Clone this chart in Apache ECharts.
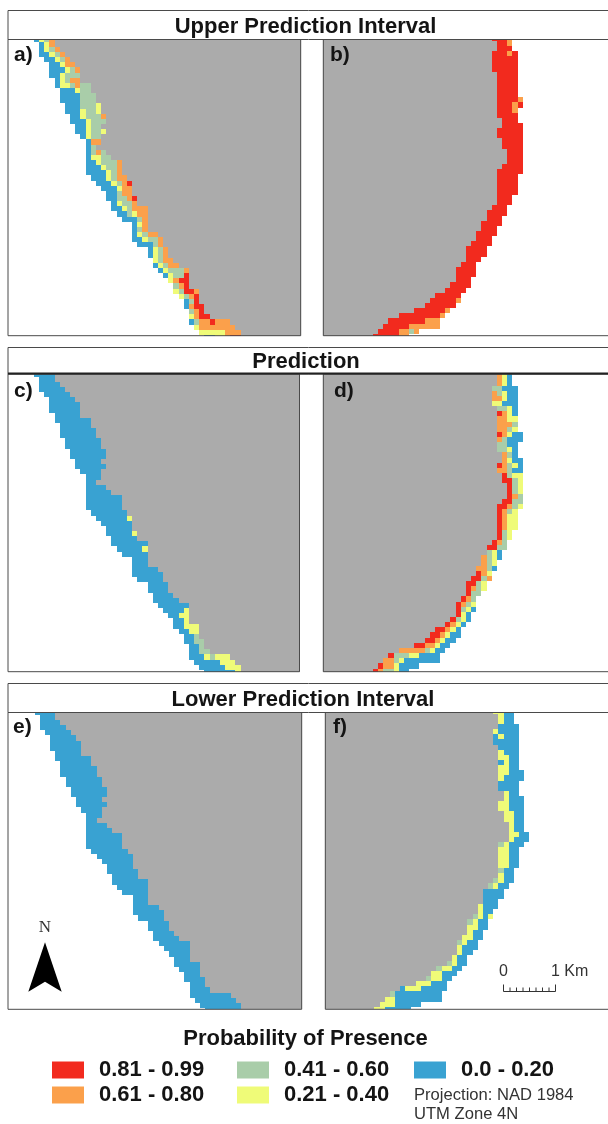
<!DOCTYPE html>
<html><head><meta charset="utf-8">
<style>html,body{margin:0;padding:0;background:#fff}#c{width:608px;height:1124px}</style>
<script src="https://cdn.jsdelivr.net/npm/echarts@6/dist/echarts.min.js"></script>
</head><body><div id="c"></div>
<script>
// Probability classes
const classCodes = ['R','O','G','Y','B'];
const classNames = ['0.81 - 0.99','0.61 - 0.80','0.41 - 0.60','0.21 - 0.40','0.0 - 0.20'];
const classColors = ['#F22A1E','#FBA04B','#A9CDA9','#EFFB78','#39A2D2'];
const landColor = '#ABABAB';
const headerTitles = ['Upper Prediction Interval','Prediction','Lower Prediction Interval'];
const panelLetters = ['a)','b)','c)','d)','e)','f)'];

// Each row: "firstColumn classRuns", e.g. "15 B4Y" = 4 blue cells then 1 yellow from column 15
const rowsA = ['5 BYGO','6 BYO','6 BYGO','6 B2YGO','7 B2YGO','8 B2YO2','8 B3YGO','8 B2YG3','9 BYGO2','9 BY2GOG2','10 B3YG2','10 B4G3','10 B4G3','11 B3G3Y','11 B3YG2Y','12 B2YG3O','12 B3YG3','13 B2YG2','13 B2YG2Y','14 BYG2','15 BO2','15 BG','15 BGOG','15 BY2G2','15 B2YG3O','15 B3YG2O','15 B4YGO','16 B3YGO2','17 B3YGOR','18 B3YO2','19 B2GO2','19 B2G2OR','20 BYG2O','20 B2YGO3','21 B2GYO2','22 B3GO','24 BYO','24 BGO','24 BYGO2','24 B2YG2O','25 B3GO','27 BYGO','27 BYGO','28 YGO2','28 BYGO2','29 BYG3O','30 BYG2R','31 YOR2','32 GOR','32 YGR2O','33 YGOR','34 BGR','34 BOR2','35 GOR','35 YOR2','35 BGO2RO3','36 YO7','37 Y5O3','38 B2Y2OR2'];
const rowsB = ['33 R3O','34 R2O','34 R3','33 R3OR','33 R5','33 R5','33 R5','34 R4','34 R4','34 R4','34 R4','34 R4','34 R4O','34 R3OR','34 R3O','34 R4','35 R3','35 R4','34 R5','34 R5','35 R4','35 R4','36 R3','36 R3','36 R3','35 R4','34 R5','34 R4','34 R4','34 R4','34 R4','34 R3','34 R3','33 R3','32 R4','32 R3','31 R4','31 R3','30 R4','30 R3','29 R4','28 R4','28 R4','28 R3','27 R3','26 R4','26 R4','26 R3','25 R4','24 R4','22 R5','21 R5O','20 R6','18 R6O','15 R8O','13 R7O3','12 R5O6','11 R4O2GO','10 R5O2'];
const rowsC = ['5 B4','6 B3','6 B4','6 B5','7 B5','8 B5','8 B6','8 B6','9 B5','9 B7','10 B6','10 B7','10 B7','11 B7','11 B7','12 B7','12 B7','13 B5','13 B6','14 B4','15 B3','15 B2','15 B4','15 B5','15 B7','15 B7','15 B7','16 B7','17 B6Y','18 B6','19 B5','19 B5Y','20 B5','20 B7','21 B5Y','22 B5','24 B3','24 B3','24 B5','24 B6','25 B5','27 B4','27 B4','28 B4','28 B5','29 B6','30 B4Y','31 B2Y2','32 B2Y','32 B2Y3','33 B2Y2','34 B2G','34 B2G2','35 B2G','35 B2G2','35 B3YGY3','36 B5Y3','37 B5Y3','38 B6Y'];
const rowsD = ['34 OYB','34 OYB','34 OYB','33 G2B3','33 OGYB2','33 O2YB2','33 Y2B3','34 G2YB','34 ROYB','34 O2Y2','34 O3G','34 O2GY','34 ROYB2','34 OGB3','34 G2B2','34 G2YB','35 OGB','35 OYB2','34 ROGYB','34 O2GB2','35 RGY2','35 R2GY','36 RGY','36 RGY','36 ROG','35 R2G2','34 R2OGY','34 ROGY','34 ROY2','34 ROY2','34 ROY2','34 RGY','34 RGY','33 ROG','32 R2G2','32 GYB','31 OGYB','31 OGY','30 O2GB','30 ROY','29 R2GO','28 R2GY','28 ROGY','28 RG2','27 ROG','26 ROGY','26 RGYB','26 RYB','25 RGYB','24 ROYB','22 R2OYB','21 R2OYB2','20 R2OYB2','18 R2O2YB2','15 O5GYB2','13 RG3Y2B4','12 O2GYB7','11 RO2YB4','10 ROG2YB2'];
const rowsE = ['5 B4','6 B3','6 B4','6 B5','7 B5','8 B5','8 B6','8 B6','9 B5','9 B7','10 B6','10 B7','10 B7','11 B7','11 B7','12 B7','12 B7','13 B5','13 B6','14 B4','15 B3','15 B2','15 B4','15 B5','15 B7','15 B7','15 B7','16 B7','17 B7','18 B6','19 B5','19 B6','20 B5','20 B7','21 B6','22 B5','24 B3','24 B3','24 B5','24 B6','25 B5','27 B4','27 B4','28 B4','28 B5','29 B6','30 B5','31 B4','32 B3','32 B5','33 B4','34 B3','34 B4','35 B3','35 B4','35 B8','36 B8','37 B8','38 B7'];
const rowsF = ['33 Y2B2','34 YB2','34 YB2','34 B4','33 YB4','33 BYB3','33 B5','34 B4','34 YB3','34 Y2B2','34 BYB2','34 Y2B2','34 Y2B3','34 YB4','34 B4','34 B4','35 YB2','35 YB3','34 Y2B3','34 Y2B3','35 Y2B2','35 Y2B2','36 YB2','36 YB2','36 Y2B2','36 YB3','34 GYB3','34 Y2B2','34 Y2B2','34 Y2B2','34 Y2B2','34 GB2','34 YB2','33 GYB2','32 GYB2','31 B4','31 B4','31 B3','30 YB3','30 YB2','29 GYBY','28 GYB2','28 Y2B2','28 YB2','27 Y2B2','26 GYB2','26 YB3','26 YB2','25 YB2','24 GYB2','22 GY2B2','21 Y2B3','20 GY2B2','18 Y3B3','15 BY3B5','13 GB9','12 Y2B9','11 Y3B5','10 Y2B5'];

const cw = 15.5/3, ch = 15.43/3;
const panels = [
 {rows:rowsA, left:8,     top:39.5, right:300.7, bottom:335.7,  colO:8,      rowO:41.67-ch, land:'right'},
 {rows:rowsB, left:323.3, top:39.5, right:608,   bottom:335.7,  colO:321.17, rowO:40.67-ch, land:'left'},
 {rows:rowsC, left:8,     top:374,  right:299.5, bottom:671.7,  colO:8,      rowO:376.67-ch, land:'right'},
 {rows:rowsD, left:323.3, top:374,  right:608,   bottom:671.7,  colO:321.17, rowO:375.33-ch, land:'left'},
 {rows:rowsE, left:8,     top:712.5,right:301.7, bottom:1009.3, colO:8.83,   rowO:714.83-ch, land:'right'},
 {rows:rowsF, left:325.3, top:712.5,right:608,   bottom:1009.3, colO:322.83, rowO:713.67-ch, land:'left'}
];

function parseRow(s){
  const [st, runs] = s.split(' ');
  let col = +st; const cells = [];
  runs.replace(/([A-Z])(\d*)/g, (m,c,n)=>{ for(let i=0;i<(n?+n:1);i++){ cells.push([col,c]); col++; } return m; });
  return {start:+st, end:col, cells};
}
function renderCell(params, api){
  const a = api.coord([api.value(0), api.value(2)]);
  const b = api.coord([api.value(1), api.value(2)+1]);
  const cs = params.coordSys;
  const x0 = Math.max(Math.round(a[0]), Math.round(cs.x)), x1 = Math.min(Math.round(b[0]), Math.round(cs.x+cs.width));
  const y0 = Math.max(Math.round(a[1]), Math.round(cs.y)), y1 = Math.min(Math.round(b[1]), Math.round(cs.y+cs.height));
  if (x1<=x0 || y1<=y0) return null;
  return {type:'rect', shape:{x:x0,y:y0,width:x1-x0,height:y1-y0}, style:{fill:api.visual('color')}, silent:true};
}

const grid=[], xAxis=[], yAxis=[], series=[];
panels.forEach((p,i)=>{
  grid.push({left:p.left, top:p.top, width:p.right-p.left, height:p.bottom-p.top, show:false});
  const xMin=(p.left-p.colO)/cw, yMin=(p.top-p.rowO)/ch;
  xAxis.push({gridIndex:i, type:'value', show:false, min:xMin, max:xMin+(p.right-p.left)/cw});
  yAxis.push({gridIndex:i, type:'value', show:false, inverse:true, min:yMin, max:yMin+(p.bottom-p.top)/ch});
  const parsed=p.rows.map(parseRow);
  const land=parsed.map((r,ri)=> p.land==='right' ? [r.end,70,ri] : [0,r.start,ri]);
  series.push({type:'custom', name:'Land', xAxisIndex:i, yAxisIndex:i, renderItem:renderCell, encode:{x:[0,1],y:2}, itemStyle:{color:landColor}, data:land, silent:true, animation:false, z:2});
  classCodes.forEach((code,k)=>{
    const data=[];
    parsed.forEach((r,ri)=>r.cells.forEach(c=>{ if(c[1]===code) data.push([c[0],c[0]+1,ri]); }));
    series.push({type:'custom', name:classNames[k], xAxisIndex:i, yAxisIndex:i, renderItem:renderCell, encode:{x:[0,1],y:2}, itemStyle:{color:classColors[k]}, data, silent:true, animation:false, z:3});
  });
});

const font='"Liberation Sans", Arial, sans-serif';
const bold=(text,left,top,size,align)=>({text, left, top, textAlign:align||'left', padding:0, textStyle:{fontFamily:font,fontWeight:'bold',fontSize:size,color:'#141414'}});
const plain=(text,left,top,size)=>({text, left, top, padding:0, textStyle:{fontFamily:font,fontWeight:'normal',fontSize:size,color:'#333'}});
const title=[
  bold(headerTitles[0],305.5,16,22,'center'),
  bold(headerTitles[1],306,351,22,'center'),
  bold(headerTitles[2],303,689,22,'center'),
  bold(panelLetters[0],14,45,21), bold(panelLetters[1],330,45,21),
  bold(panelLetters[2],14,381,21), bold(panelLetters[3],334,381,21),
  bold(panelLetters[4],13,717,21), bold(panelLetters[5],333,717,21),
  bold('Probability of Presence',305.5,1028,22,'center'),
  plain('Projection: NAD 1984',414,1087,16.6),
  plain('UTM Zone 4N',414,1106,16.6)
];
const legendBase={orient:'vertical', padding:0, itemWidth:32, itemHeight:17, itemGap:3, icon:'rect', selectedMode:false,
  textStyle:{fontFamily:font,fontWeight:'bold',fontSize:22,color:'#141414',padding:[0,0,0,10]}};
const legend=[
  {...legendBase,left:52,top:1059,data:[classNames[0],classNames[1]]},
  {...legendBase,left:237,top:1059,data:[classNames[2],classNames[3]]},
  {...legendBase,left:414,top:1059,data:[classNames[4]],textStyle:{...legendBase.textStyle,padding:[0,0,0,10]}}
];

const frame='#4a4a4a';
const box=(x,y,w,h,lw,col)=>({type:'rect',z:100,silent:true,shape:{x,y,width:w,height:h},style:{fill:'none',stroke:col||frame,lineWidth:lw||1}});
const graphicEls=[
  box(8,10.5,610,29), box(8,347.5,610,26.5,1), box(8,683.5,610,29),
  {type:'line',z:101,silent:true,shape:{x1:8,y1:373.5,x2:608,y2:373.5},style:{stroke:'#222',lineWidth:2}},
];
panels.forEach(p=>{ graphicEls.push(box(p.left,p.top,p.right-p.left+(p.land==='left'?10:0),p.bottom-p.top)); });
// North arrow
graphicEls.push({type:'polygon',z:100,silent:true,shape:{points:[[45,942.3],[61.7,991.7],[45,981.7],[28.3,991.7]]},style:{fill:'#000'}});
graphicEls.push({type:'text',z:100,silent:true,x:45,y:927.5,style:{text:'N',fontFamily:'"Liberation Serif",serif',fontSize:17,fill:'#333',textAlign:'center',textVerticalAlign:'middle'}});
// Scale bar
const scaleDivs=8, sx0=503.5, sx1=555.5, sy=991.5;
for(let i=0;i<=scaleDivs;i++){
  const x=sx0+(sx1-sx0)*i/scaleDivs, big=(i===0||i===scaleDivs);
  graphicEls.push({type:'line',z:100,silent:true,shape:{x1:x,y1:sy,x2:x,y2:sy-(big?7:4)},style:{stroke:'#333',lineWidth:1}});
}
graphicEls.push({type:'line',z:100,silent:true,shape:{x1:sx0,y1:sy,x2:sx1,y2:sy},style:{stroke:'#333',lineWidth:1}});
graphicEls.push({type:'text',z:100,silent:true,x:503.5,y:972,style:{text:'0',fontFamily:font,fontSize:16,fill:'#333',textAlign:'center',textVerticalAlign:'middle'}});
graphicEls.push({type:'text',z:100,silent:true,x:551,y:972,style:{text:'1 Km',fontFamily:font,fontSize:16,fill:'#333',textAlign:'left',textVerticalAlign:'middle'}});

const chart=echarts.init(document.getElementById('c'),null,{renderer:'canvas',width:608,height:1124});
chart.setOption({animation:false,backgroundColor:'#fff',tooltip:{show:false},title,legend,grid,xAxis,yAxis,series,graphic:{elements:graphicEls}});
</script></body></html>
